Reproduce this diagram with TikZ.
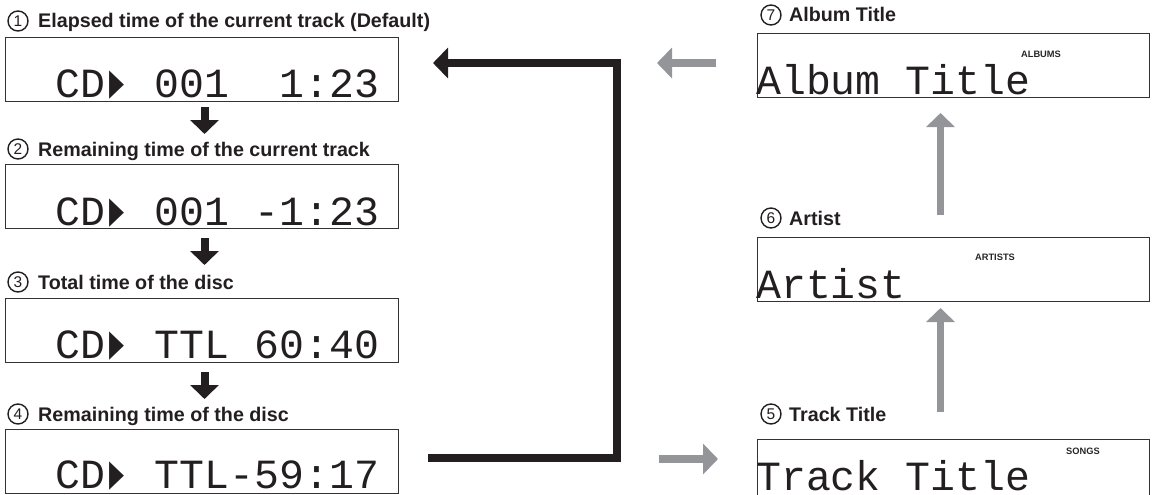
\documentclass[tikz,border=0pt]{standalone}
\usepackage{fontspec}
\usepackage{graphicx}
\setmainfont{Liberation Sans}
\newfontfamily\lcdfont{Liberation Mono}
\newfontfamily\symfont{DejaVu Sans Mono}
\usetikzlibrary{arrows.meta}
\definecolor{ink}{HTML}{231F20}
\definecolor{arrgray}{HTML}{939598}
\newcommand{\playsym}{\makebox[0.6em][l]{\hspace{0.1em}\scalebox{0.6}[1.15]{\symfont ▶}}}
\tikzset{
  lcdbox/.style={draw=black!80, line width=1pt, minimum width=393pt, minimum height=64pt, inner sep=0pt, anchor=north west},
  lcdtext/.style={font=\lcdfont\fontsize{41.5}{41.5}\selectfont, inner sep=0pt, anchor=base west, text=ink, text depth=0pt},
  lbl/.style={font=\bfseries\fontsize{19.7}{20}\selectfont, inner sep=0pt, anchor=base west, text=ink},
  num/.style={circle, draw=ink, line width=1.4pt, minimum size=20pt, inner sep=0pt, font=\fontsize{15.5}{15.5}\selectfont, text=ink},
  tag/.style={font=\bfseries\fontsize{9.3}{10}\selectfont, inner sep=0pt, text=black!85},
  blackdown/.style={draw=ink, line width=8pt, -{Triangle[width=28pt,length=14pt]}},
  grayarr/.style={draw=arrgray, line width=7pt, -{Triangle[width=28pt,length=14pt]}},
  grayside/.style={draw=arrgray, line width=8pt, -{Triangle[width=30pt,length=15pt]}},
  loopline/.style={draw=ink, line width=8pt, miter limit=10, -{Triangle[width=30pt,length=15pt]}},
}
\begin{document}
\begin{tikzpicture}[x=1pt,y=-1pt]
\useasboundingbox (0,0) rectangle (1156,495);
\clip (0,0) rectangle (1156,495);
% left column
\node[num] (n1) at (18,21) {1};
\node[lbl] (l1) at (38,28) {Elapsed time of the current track (Default)};
\node[lcdbox] (b1) at (5,37) {};
\node[lcdtext] (t1) at (55,97) {CD\playsym~001~~1:23};

\node[num] (n2) at (18,149) {2};
\node[lbl] (l2) at (38,156) {Remaining time of the current track};
\node[lcdbox] (b2) at (5,164) {};
\node[lcdtext] (t2) at (55,225) {CD\playsym~001~-1:23};

\node[num] (n3) at (18,282) {3};
\node[lbl] (l3) at (38,289) {Total time of the disc};
\node[lcdbox] (b3) at (5,298) {};
\node[lcdtext] (t3) at (55,358) {CD\playsym~TTL~60:40};

\node[num] (n4) at (18,414) {4};
\node[lbl] (l4) at (38,421) {Remaining time of the disc};
\node[lcdbox] (b4) at (5,429) {};
\node[lcdtext] (t4) at (55,488) {CD\playsym~TTL-59:17};

% right column
\node[num] (n7) at (771,15) {7};
\node[lbl] (l7) at (789,22) {Album Title};
\node[lcdbox, minimum width=392pt] (b7) at (757,33) {};
\node[tag] (g7) at (1041,54) {ALBUMS};
\node[lcdtext] (t7) at (756,94) {Album~Title};

\node[num] (n6) at (771,218) {6};
\node[lbl] (l6) at (789,225) {Artist};
\node[lcdbox, minimum width=392pt] (b6) at (757,237) {};
\node[tag] (g6) at (995,257) {ARTISTS};
\node[lcdtext] (t6) at (756,298) {Artist};

\node[num] (n5) at (771,414) {5};
\node[lbl] (l5) at (789,421) {Track Title};
\node[lcdbox, minimum width=392pt, minimum height=65pt] (b5) at (757,439) {};
\node[tag] (g5) at (1083,451) {SONGS};
\node[lcdtext] (t5) at (756,490) {Track~Title};

% black down arrows
\draw[blackdown] ([xshift=2.5pt,yshift=-5pt]b1.south) -- ([xshift=2.5pt,yshift=-32pt]b1.south);
\draw[blackdown] ([xshift=2.5pt,yshift=-9pt]b2.south) -- ([xshift=2.5pt,yshift=-36pt]b2.south);
\draw[blackdown] ([xshift=2.5pt,yshift=-9pt]b3.south) -- ([xshift=2.5pt,yshift=-36pt]b3.south);

% gray up arrows
\draw[grayarr] ([xshift=-13pt,yshift=22pt]b6.north) -- ([xshift=-13pt,yshift=-15pt]b7.south);
\draw[grayarr] ([xshift=-13pt,yshift=27pt]b5.north) -- ([xshift=-13pt,yshift=-6pt]b6.south);

% gray side arrows
\coordinate (ga1) at (716,63);
\coordinate (ga2) at (657,63);
\draw[grayside] (ga1) -- (ga2);
\coordinate (gb1) at (659,459);
\coordinate (gb2) at (718,459);
\draw[grayside] (gb1) -- (gb2);

% black return loop
\coordinate (loopS) at (428,458);
\coordinate (loopR) at (617,63);
\coordinate (loopE) at (433,63);
\draw[loopline] (loopS) -| (loopR) -- (loopE);
\end{tikzpicture}
\end{document}
